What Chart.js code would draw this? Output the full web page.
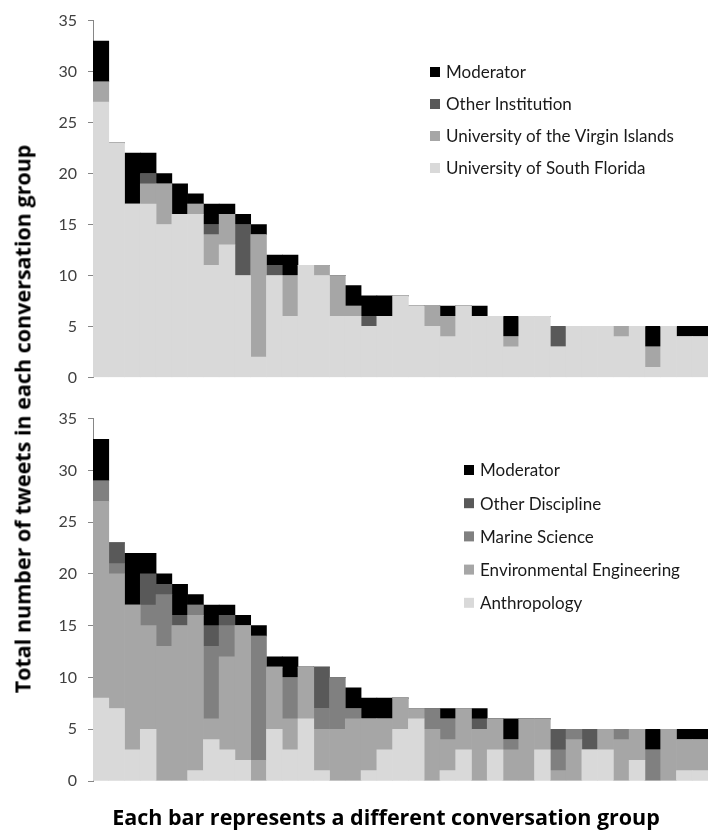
<!DOCTYPE html>
<html>
<head>
<meta charset="utf-8">
<title>Tweets per conversation group</title>
<script src="https://cdn.jsdelivr.net/npm/chart.js@4.4.1/dist/chart.umd.min.js"></script>
<style>
  html, body { margin: 0; padding: 0; background: #fff; overflow: hidden; }
  #wrap { position: relative; width: 708px; height: 830px; }
  canvas { position: absolute; left: 0; }
  #topChart { top: 0; }
  #bottomChart { top: 398px; }
  .axis-title {
    position: absolute;
    font-family: "Open Sans", Lato, sans-serif;
    font-weight: bold;
    font-size: 21.5px;
    color: #000;
    white-space: nowrap;
  }
  #yTitle { left: 22px; top: 419px; transform: translate(-50%, -50%) rotate(-90deg); }
  #xTitle { left: 386px; top: 816px; transform: translate(-50%, -50%); }
</style>
</head>
<body>
<div id="wrap">
  <canvas id="topChart" width="708" height="398"></canvas>
  <canvas id="bottomChart" width="708" height="432"></canvas>
  <div class="axis-title" id="yTitle">Total number of tweets in each conversation group</div>
  <div class="axis-title" id="xTitle">Each bar represents a different conversation group</div>
</div>
<script>
// Datos: 39 grupos de conversación, ordenados por total de tweets
const groups = [];
for (let i = 1; i <= 39; i++) groups.push('Group ' + i);

const yTicks = [0, 5, 10, 15, 20, 25, 30, 35];

// Mismo número de tweets del moderador en ambas gráficas
const moderator = [4,0,5,2,1,3,1,2,1,1,1,1,2,0,0,0,2,2,2,0,0,0,1,0,1,0,2,0,0,0,0,0,0,0,0,2,0,1,1];

// Gráfica superior: por institución
const southFlorida  = [27,23,17,17,15,16,16,11,13,10,2,10,6,11,10,6,6,5,6,8,7,5,4,7,6,6,3,6,6,3,5,5,5,4,5,1,5,4,4];
const virginIslands = [2,0,0,2,4,0,1,3,3,0,12,0,4,0,1,4,1,0,0,0,0,2,2,0,0,0,1,0,0,0,0,0,0,1,0,2,0,0,0];
const otherInst     = [0,0,0,1,0,0,0,1,0,5,0,1,0,0,0,0,0,1,0,0,0,0,0,0,0,0,0,0,0,2,0,0,0,0,0,0,0,0,0];

// Gráfica inferior: por disciplina
const anthropology  = [8,7,3,5,0,0,1,4,3,2,0,5,3,6,1,0,0,1,3,5,6,0,1,3,0,3,0,0,3,0,0,3,3,0,2,0,0,1,1];
const envEng        = [19,13,14,10,13,15,15,2,9,13,2,6,3,5,4,5,6,5,3,3,1,5,3,4,5,3,3,6,3,1,4,0,2,4,3,0,5,3,3];
const marine        = [2,1,0,2,5,0,1,7,3,0,12,0,4,0,2,5,1,0,0,0,0,2,2,0,0,0,1,0,0,2,1,0,0,1,0,3,0,0,0];
const otherDisc     = [0,2,0,3,1,1,0,2,1,0,0,0,0,0,4,0,0,0,0,0,0,0,0,0,1,0,0,0,0,2,0,2,0,0,0,0,0,0,0];

// Leyenda a la derecha, dibujada dentro del área
const sideLegend = {
  id: 'sideLegend',
  afterDraw(chart, args, opts) {
    const ctx = chart.ctx;
    const ds = chart.data.datasets.slice().reverse();
    ctx.save();
    ctx.font = '17px Lato, "Open Sans", sans-serif';
    ctx.textBaseline = 'middle';
    ds.forEach((d, i) => {
      const y = opts.top + i * opts.gap;
      ctx.fillStyle = d.backgroundColor;
      ctx.fillRect(opts.left, y - 5, 10, 10);
      ctx.fillStyle = '#1a1a1a';
      ctx.fillText(d.label, opts.left + 16, y + 1);
    });
    ctx.restore();
  }
};

function makeOptions(pad, legendPos) {
  return {
    responsive: false,
    animation: false,
    layout: { padding: pad },
    plugins: {
      legend: { display: false },
      tooltip: { enabled: false },
      sideLegend: legendPos
    },
    scales: {
      x: {
        stacked: true,
        display: false
      },
      y: {
        stacked: true,
        min: 0,
        max: 35,
        afterBuildTicks: (s) => { s.ticks = yTicks.map(v => ({ value: v })); },
        afterFit: (s) => { s.width = 93; },
        grid: { drawOnChartArea: false, drawTicks: true, tickLength: 5, color: '#868686' },
        border: { display: true, color: '#868686' },
        ticks: {
          padding: 11,
          color: '#404040',
          font: { family: 'Lato, "Open Sans", sans-serif', size: 16 }
        }
      }
    }
  };
}

function bar(label, data, color) {
  return {
    label: label,
    data: data,
    backgroundColor: color,
    borderWidth: 0,
    barPercentage: 1,
    categoryPercentage: 1
  };
}

new Chart(document.getElementById('topChart'), {
  type: 'bar',
  data: {
    labels: groups,
    datasets: [
      bar('University of South Florida', southFlorida, '#d9d9d9'),
      bar('University of the Virgin Islands', virginIslands, '#a6a6a6'),
      bar('Other Institution', otherInst, '#595959'),
      bar('Moderator', moderator, '#000000')
    ]
  },
  options: makeOptions({ top: 16, bottom: 17, left: 0, right: 0 }, { left: 430, top: 72, gap: 32 }),
  plugins: [sideLegend]
});

new Chart(document.getElementById('bottomChart'), {
  type: 'bar',
  data: {
    labels: groups,
    datasets: [
      bar('Anthropology', anthropology, '#d9d9d9'),
      bar('Environmental Engineering', envEng, '#a6a6a6'),
      bar('Marine Science', marine, '#808080'),
      bar('Other Discipline', otherDisc, '#595959'),
      bar('Moderator', moderator, '#000000')
    ]
  },
  options: makeOptions({ top: 18, bottom: 49, left: 0, right: 0 }, { left: 464, top: 72, gap: 33.2 }),
  plugins: [sideLegend]
});
</script>
</body>
</html>
